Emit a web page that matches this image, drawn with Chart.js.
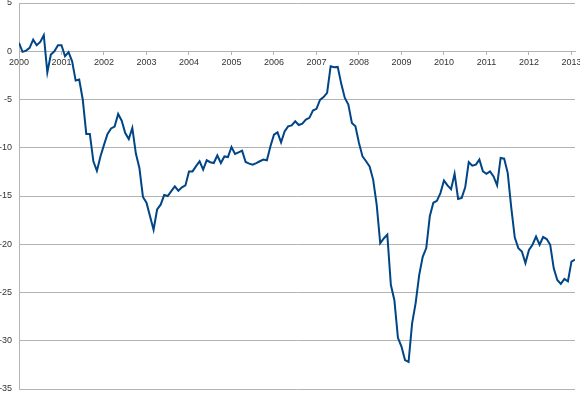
<!DOCTYPE html>
<html>
<head>
<meta charset="utf-8">
<script src="https://cdn.jsdelivr.net/npm/chart.js@4.4.1/dist/chart.umd.min.js"></script>
<style>
  html, body { margin: 0; padding: 0; background: #fff; }
  #wrap { width: 580px; height: 393px; position: relative; }
</style>
</head>
<body>
<div id="wrap"><canvas id="indexChart"></canvas></div>
<script>
// year labels for the x axis (one tick every 12 months)
const years = [2000, 2001, 2002, 2003, 2004, 2005, 2006, 2007, 2008, 2009, 2010, 2011, 2012, 2013];

// monthly values
const v2000 = [0.87, -0.06, 0.07, 0.35, 1.2, 0.62, 0.97, 1.66, -2.18, -0.34, 0.0, 0.62];
const v2001 = [0.62, -0.52, -0.1, -1.04, -3.04, -2.94, -5.0, -8.57, -8.57, -11.4, -12.4, -10.9];
const v2002 = [-9.7, -8.57, -8.0, -7.8, -6.5, -7.2, -8.47, -9.1, -7.95, -10.6, -12.1, -15.1];
const v2003 = [-15.7, -17.1, -18.5, -16.4, -15.9, -14.9, -15.0, -14.5, -14.0, -14.45, -14.1, -13.9];
const v2004 = [-12.45, -12.45, -11.9, -11.4, -12.27, -11.3, -11.5, -11.58, -10.8, -11.58, -10.9, -10.96];
const v2005 = [-9.92, -10.65, -10.47, -10.3, -11.47, -11.65, -11.75, -11.6, -11.4, -11.23, -11.3, -9.85];
const v2006 = [-8.64, -8.4, -9.44, -8.3, -7.78, -7.68, -7.26, -7.64, -7.5, -7.08, -6.9, -6.15];
const v2007 = [-5.96, -5.04, -4.75, -4.32, -1.56, -1.66, -1.62, -3.38, -4.84, -5.53, -7.43, -7.78];
const v2008 = [-9.5, -10.9, -11.4, -11.93, -13.3, -15.9, -19.9, -19.4, -19.0, -24.2, -25.8, -29.7];
const v2009 = [-30.6, -32.0, -32.2, -28.2, -26.1, -23.2, -21.3, -20.4, -17.1, -15.7, -15.5, -14.7];
const v2010 = [-13.4, -13.9, -14.3, -12.7, -15.3, -15.2, -14.1, -11.5, -11.86, -11.75, -11.23, -12.45];
const v2011 = [-12.7, -12.45, -12.97, -13.9, -11.06, -11.13, -12.6, -16.2, -19.3, -20.4, -20.75, -21.95];
const v2012 = [-20.6, -20.05, -19.2, -20.05, -19.25, -19.46, -20.05, -22.5, -23.7, -24.1, -23.6, -23.85];
const v2013 = [-21.8, -21.6];

const monthly = [].concat(v2000, v2001, v2002, v2003, v2004, v2005, v2006,
                          v2007, v2008, v2009, v2010, v2011, v2012, v2013);

// x = month number counted from January 2000
const points = monthly.map((v, i) => ({ x: i, y: v }));

const gridGrey = '#b3b3b3';

Chart.defaults.font.family = '"Liberation Sans", Arial, sans-serif';
Chart.defaults.font.size = 9;
Chart.defaults.color = '#333';

new Chart(document.getElementById('indexChart'), {
    type: 'line',
    data: {
        datasets: [{
            data: points,
            borderColor: '#004586',
            borderWidth: 2,
            pointRadius: 0,
            tension: 0,
            fill: false
        }]
    },
    options: {
        responsive: true,
        maintainAspectRatio: false,
        animation: false,
        layout: { padding: { top: 3, right: 5, bottom: 4, left: 0 } },
        plugins: {
            legend: { display: false },
            tooltip: { enabled: false }
        },
        scales: {
            x: {
                type: 'linear',
                position: { y: 0 },
                min: 0,
                max: monthly.length - 1,
                grid: { drawOnChartArea: false, drawTicks: true, tickLength: 3, color: gridGrey },
                border: { color: gridGrey },
                ticks: {
                    stepSize: 12,
                    includeBounds: false,
                    autoSkip: false,
                    maxRotation: 0,
                    padding: 3,
                    callback: value => years[value / 12]
                },
                afterFit: scale => { scale.paddingLeft = 0; scale.paddingRight = 0; }
            },
            y: {
                min: -35,
                max: 5,
                grid: { color: gridGrey, drawTicks: false },
                border: { color: gridGrey },
                ticks: { stepSize: 5, padding: 7 },
                afterFit: scale => {
                    scale.width = 19;
                    scale.paddingTop = 0;
                    scale.paddingBottom = 0;
                }
            }
        }
    }
});
</script>
</body>
</html>
